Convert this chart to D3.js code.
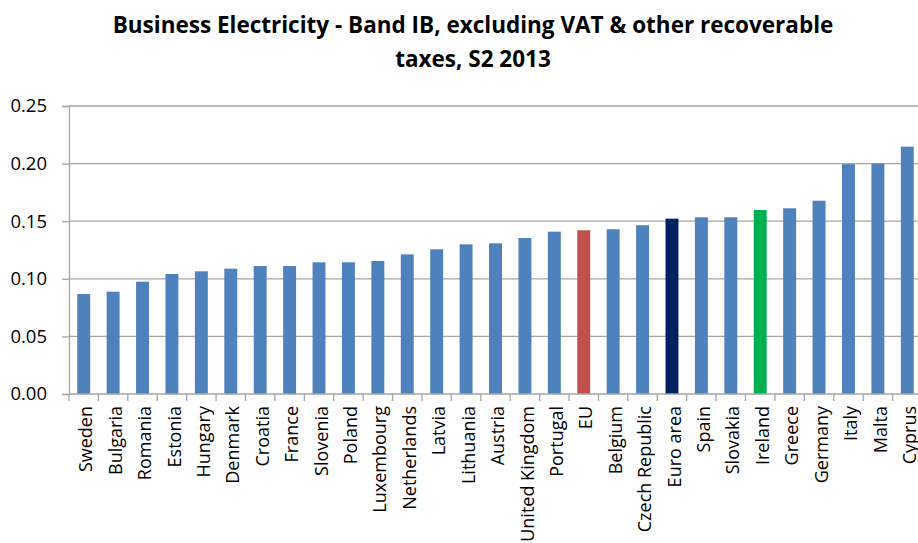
<!DOCTYPE html>
<html>
<head>
<meta charset="utf-8">
<script src="https://cdn.jsdelivr.net/npm/d3@7"></script>
<style>
  html, body { margin: 0; padding: 0; background: #fff; }
  svg { display: block; }
  text { font-family: "Open Sans", Lato, sans-serif; fill: #000; }
</style>
</head>
<body>
<svg id="chart" width="918" height="543"></svg>
<script>
// Business electricity prices, Band IB, S2 2013 (EUR/kWh)
const countries = ["Sweden", "Bulgaria", "Romania", "Estonia", "Hungary", "Denmark",
  "Croatia", "France", "Slovenia", "Poland", "Luxembourg", "Netherlands", "Latvia",
  "Lithuania", "Austria", "United Kingdom", "Portugal", "EU", "Belgium",
  "Czech Republic", "Euro area", "Spain", "Slovakia", "Ireland", "Greece",
  "Germany", "Italy", "Malta", "Cyprus"];
const prices = [0.0868, 0.0888, 0.0975, 0.1042, 0.1065, 0.1088,
  0.1111, 0.1111, 0.1143, 0.1143, 0.1155, 0.1212, 0.1256,
  0.1299, 0.1308, 0.1354, 0.1409, 0.1421, 0.1430,
  0.1465, 0.1522, 0.1534, 0.1534, 0.1597, 0.1612,
  0.1678, 0.1995, 0.2000, 0.2147];
const yTicks = [0, 0.05, 0.10, 0.15, 0.20, 0.25];
const titleLines = ["Business Electricity - Band IB, excluding VAT & other recoverable",
  "taxes, S2 2013"];
const highlight = { "EU": "#C0504D", "Euro area": "#002060", "Ireland": "#00B050" };
const baseColor = "#4F81BD";

const svg = d3.select("#chart");
const plotLeft = 69, plotRight = 922, plotTop = 106, plotBottom = 394;

const x = d3.scaleBand().domain(countries).range([plotLeft, plotRight])
  .paddingInner(0.56).paddingOuter(0.28);
const y = d3.scaleLinear().domain([0, 0.25]).range([plotBottom, plotTop]);

// title
svg.append("g").selectAll("text").data(titleLines).join("text")
  .attr("x", 473).attr("y", (d, i) => 33 + i * 34)
  .attr("text-anchor", "middle")
  .style("font-size", "22.5px").style("font-weight", "bold")
  .text(d => d);

// gridlines
svg.append("g").selectAll("line").data(yTicks.slice(1)).join("line")
  .attr("x1", plotLeft).attr("x2", 918)
  .attr("y1", d => y(d)).attr("y2", d => y(d))
  .attr("stroke", "#A6A6A6").attr("stroke-width", 1.3);

// y axis
const yAxis = svg.append("g").attr("transform", `translate(${plotLeft},0)`)
  .call(d3.axisLeft(y).tickValues(yTicks).tickFormat(d3.format(".2f")).tickSize(7).tickPadding(15));
yAxis.select(".domain").attr("stroke", "#A6A6A6").attr("stroke-width", 1.3);
yAxis.selectAll(".tick line").attr("stroke", "#A6A6A6").attr("stroke-width", 1.3);
yAxis.selectAll(".tick text").style("font-size", "18.5px")
  .style("font-family", "'Open Sans', Lato, sans-serif").attr("fill", "#000");

// bars
svg.append("g").selectAll("rect").data(countries).join("rect")
  .attr("x", d => x(d))
  .attr("width", x.bandwidth())
  .attr("y", (d, i) => y(prices[i]))
  .attr("height", (d, i) => plotBottom - y(prices[i]))
  .attr("fill", d => highlight[d] || baseColor);

// x axis baseline with ticks between categories
const step = x.step();
const boundaries = d3.range(countries.length + 1).map(i => plotLeft + i * step);
svg.append("line").attr("x1", plotLeft).attr("x2", 918)
  .attr("y1", plotBottom).attr("y2", plotBottom)
  .attr("stroke", "#A6A6A6").attr("stroke-width", 1.3);
svg.append("g").selectAll("line").data(boundaries).join("line")
  .attr("x1", d => d).attr("x2", d => d)
  .attr("y1", plotBottom).attr("y2", plotBottom + 7)
  .attr("stroke", "#A6A6A6").attr("stroke-width", 1.3);

// category labels, rotated
svg.append("g").selectAll("text").data(countries).join("text")
  .attr("transform", d => `translate(${x(d) + x.bandwidth() / 2},${plotBottom + 12}) rotate(-90)`)
  .attr("text-anchor", "end")
  .attr("dy", "0.48em")
  .style("font-size", "18px")
  .text(d => d);
</script>
</body>
</html>
